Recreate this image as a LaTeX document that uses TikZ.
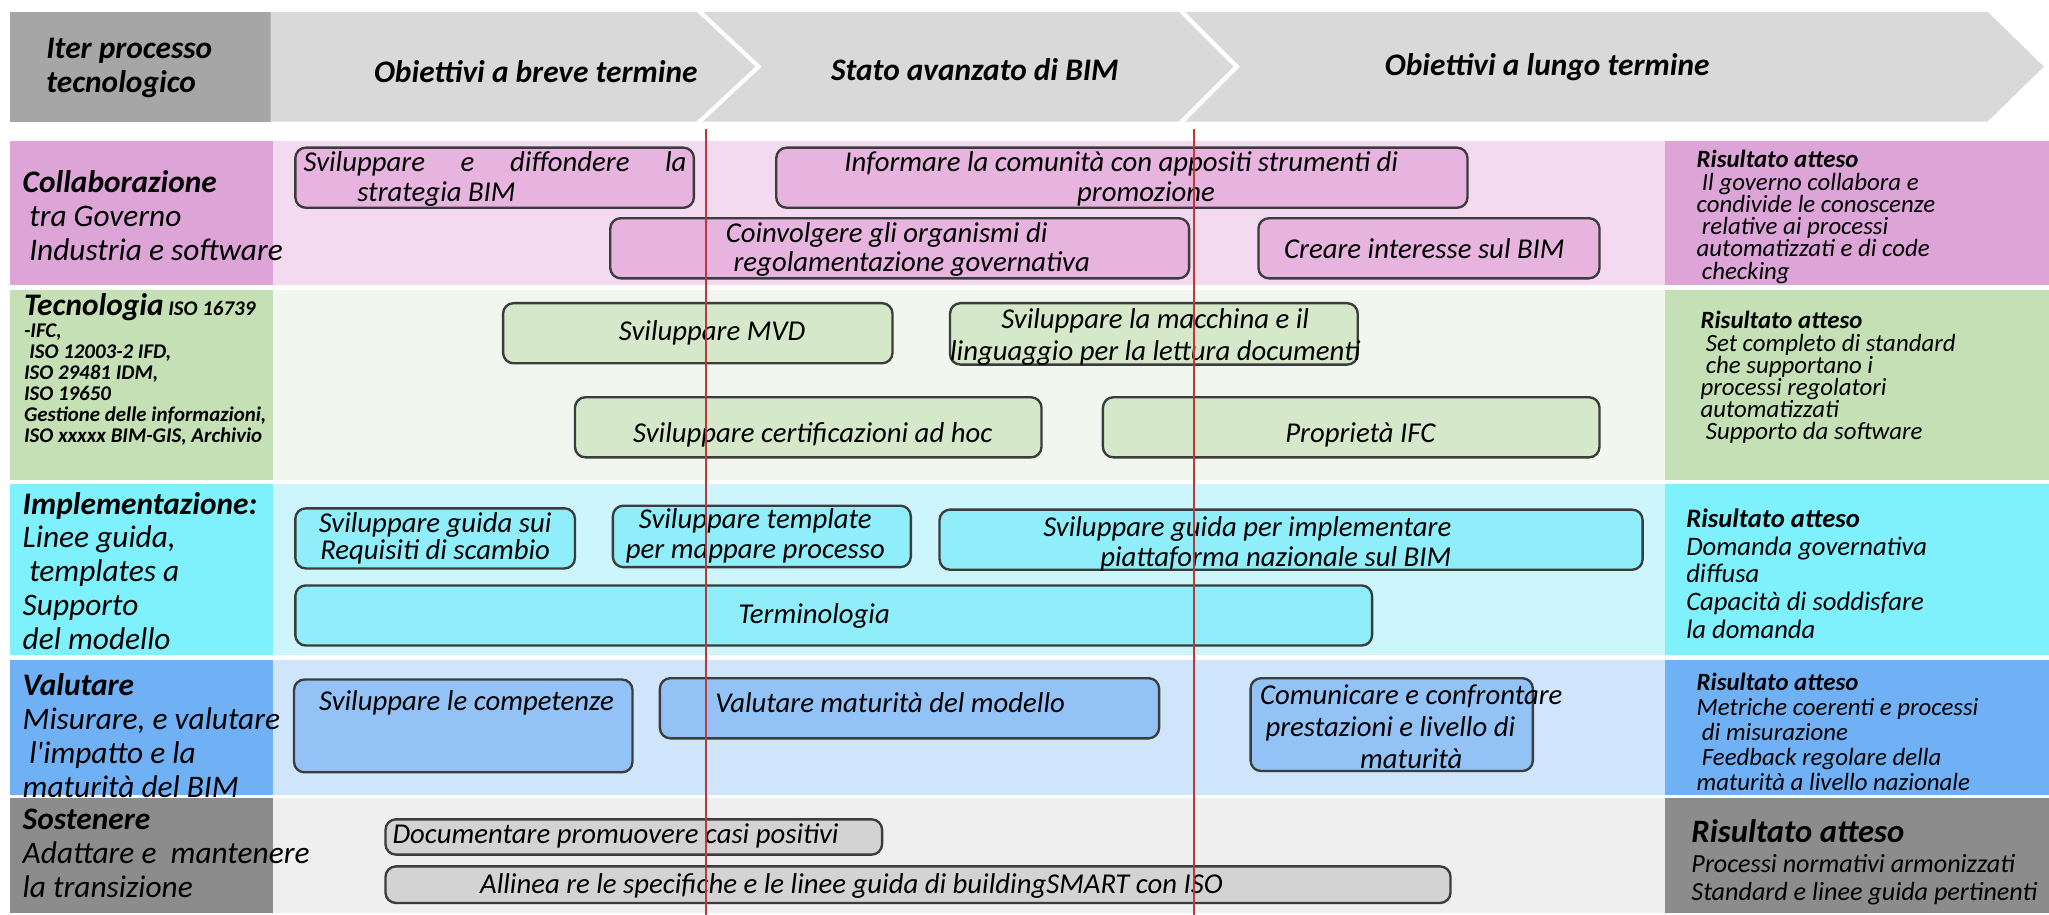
\documentclass[tikz,border=0pt]{standalone}
\usepackage{fontspec}
\setmainfont{Carlito}[Ligatures=TeXOff]
\definecolor{hdrdark}{HTML}{A6A6A6}
\definecolor{hdrlight}{HTML}{D9D9D9}
\definecolor{colA}{HTML}{DCA4D7}
\definecolor{colband}{HTML}{F3DAF0}
\definecolor{colbox}{HTML}{E6B4DE}
\definecolor{tecA}{HTML}{C5E0B4}
\definecolor{tecband}{HTML}{F1F6EE}
\definecolor{tecbox}{HTML}{D5E8C9}
\definecolor{impA}{HTML}{7FF1FC}
\definecolor{impband}{HTML}{CCF6FB}
\definecolor{impbox}{HTML}{8FEEF9}
\definecolor{valA}{HTML}{70B1F5}
\definecolor{valband}{HTML}{CFE5FB}
\definecolor{valbox}{HTML}{93C3F6}
\definecolor{sosA}{HTML}{8C8C8C}
\definecolor{sosband}{HTML}{EFEFEF}
\definecolor{sosbox}{HTML}{D3D3D3}
\definecolor{redline}{HTML}{B83A3A}
\definecolor{edge}{HTML}{3C3C3C}
% rounded task box from its corner coordinates: name, x1, y1, x2, y2, fill
\newcommand\taskbox[6]{%
  \node[task, fill=#6, minimum width={(#4-#2)*0.5pt}, minimum height={(#5-#3)*0.5pt}]
    (#1) at ({(#2+#4)/2},{(#3+#5)/2}) {};}
\begin{document}
\begin{tikzpicture}[x=0.5pt,y=-0.5pt,
  task/.style={draw=edge, line width=0.9pt, rounded corners=4pt, inner sep=0pt},
  tt/.style={inner sep=0pt, align=center, font=\fontsize{11}{11.5}\selectfont\itshape},
  hdr/.style={inner sep=0pt, font=\fontsize{12}{13}\selectfont\bfseries\itshape},
  lab/.style={inner sep=0pt, anchor=west, align=left, font=\fontsize{12}{13}\selectfont\itshape},
  res/.style={inner sep=0pt, anchor=west, align=left, font=\fontsize{9.5}{8.5}\selectfont\itshape},
  redl/.style={draw=redline, line width=0.8pt}
]
\useasboundingbox (0,0) rectangle (1568,700);
\fill[white] (0,0) rectangle (1568,700);

% ---- header ribbon
\fill[hdrdark] (7.5,9) rectangle (207,93);
\fill[hdrlight] (207,9) -- (533,9) -- (578,51) -- (533,93) -- (207,93) -- cycle;
\fill[hdrlight] (538,9) -- (902,9) -- (944,51) -- (902,93) -- (538,93) -- (583,51) -- cycle;
\fill[hdrlight] (907,9) -- (1521,9) -- (1564,51) -- (1521,93) -- (907,93) -- (949,51) -- cycle;
\node[hdr, anchor=west, align=left] (hIter) at (35,52) {Iter processo\\tecnologico};
\node[hdr] (hBreve) at (410,55) {Obiettivi a breve termine};
\node[hdr] (hStato) at (746,53) {Stato avanzato di BIM};
\node[hdr] (hLungo) at (1184,51) {Obiettivi a lungo termine};

% ---- row bands
\fill[colA]    (7.5,108) rectangle (209,218);
\fill[colband] (209,108) rectangle (1274,218);
\fill[colA]    (1274,108) rectangle (1568,218);
\fill[tecA]    (7.5,222) rectangle (209,367);
\fill[tecband] (209,222) rectangle (1274,367);
\fill[tecA]    (1274,222) rectangle (1568,367);
\fill[impA]    (7.5,370) rectangle (209,501);
\fill[impband] (209,370) rectangle (1274,501);
\fill[impA]    (1274,370) rectangle (1568,501);
\fill[valA]    (7.5,505) rectangle (209,608);
\fill[valband] (209,505) rectangle (1274,608);
\fill[valA]    (1274,505) rectangle (1568,608);
\fill[sosA]    (7.5,611) rectangle (209,699);
\fill[sosband] (209,611) rectangle (1274,699);
\fill[sosA]    (1274,611) rectangle (1568,699);

% ---- row titles
\node[lab] (lCol) at (17,165) {{\bfseries Collaborazione}\\\hspace*{2.5pt}tra Governo\\\hspace*{2.5pt}Industria e software};
\node[lab, font=\fontsize{8}{8.1}\selectfont\bfseries\itshape] (lTec) at (18,283)
  {{\fontsize{12}{12}\selectfont Tecnologia} ISO 16739\\-IFC,\\\hspace*{2pt}ISO 12003-2 IFD,\\ISO 29481 IDM,\\ISO 19650\\Gestione delle informazioni,\\ISO xxxxx BIM-GIS, Archivio};
\node[lab] (lImp) at (17,437) {{\bfseries Implementazione:}\\Linee guida,\\\hspace*{2.5pt}templates a\\Supporto\\del modello};
\node[lab] (lVal) at (17,563) {{\bfseries Valutare}\\Misurare, e valutare\\\hspace*{2.5pt}l'impatto e la\\maturità del BIM};
\node[lab] (lSos) at (17,653) {{\bfseries Sostenere}\\Adattare e\ \ mantenere\\la transizione};

% ---- expected results
\node[res] (rCol) at (1298,166) {{\bfseries Risultato atteso}\\\hspace*{2pt}Il governo collabora e\\condivide le conoscenze\\\hspace*{2pt}relative ai processi\\automatizzati e di code\\\hspace*{2pt}checking};
\node[res] (rTec) at (1301,289) {{\bfseries Risultato atteso}\\\hspace*{2pt}Set completo di standard\\\hspace*{2pt}che supportano i\\processi regolatori\\automatizzati\\\hspace*{2pt}Supporto da software};
\node[res, font=\fontsize{10.2}{10.6}\selectfont\itshape] (rImp) at (1290,439) {{\bfseries Risultato atteso}\\Domanda governativa\\diffusa\\Capacità di soddisfare\\la domanda};
\node[res, font=\fontsize{9.5}{9.5}\selectfont\itshape] (rVal) at (1298,560) {{\bfseries Risultato atteso}\\Metriche coerenti e processi\\\hspace*{2pt}di misurazione\\\hspace*{2pt}Feedback regolare della\\maturità a livello nazionale};
\node[res, font=\fontsize{10}{10.6}\selectfont\itshape] (rSos) at (1294,660) {{\bfseries\fontsize{12.5}{13}\selectfont Risultato atteso}\\[1pt]Processi normativi armonizzati\\Standard e linee guida pertinenti};

% ---- Collaborazione tasks
\taskbox{b11}{226}{113}{531}{159}{colbox}
\taskbox{b12}{594}{113}{1123}{159}{colbox}
\taskbox{b13}{467}{167}{910}{213}{colbox}
\taskbox{b14}{963}{167}{1224}{213}{colbox}
\node[tt, anchor=west, align=left, font=\fontsize{11}{11.5}\selectfont\itshape] (t11) at (232,137)
  {\hbox to 146.5pt{Sviluppare\hfill e\hfill diffondere\hfill la}\\\hspace*{20.5pt}strategia BIM};
\node[tt] (t12) at (858,137) {Informare la comunità con appositi strumenti di\\\hspace*{19pt}promozione};
\node[tt, anchor=west, align=left, font=\fontsize{11}{10.8}\selectfont\itshape] (t13) at (555,191)
  {Coinvolgere gli organismi di\\\hspace*{3pt}regolamentazione governativa};
\node[tt] (t14) at (1090,190) {Creare interesse sul BIM};

% ---- Tecnologia tasks
\taskbox{b21}{385}{232}{683}{278}{tecbox}
\taskbox{b22}{727}{232}{1039}{279}{tecbox}
\taskbox{b23}{440}{304}{797}{350}{tecbox}
\taskbox{b24}{844}{304}{1224}{350}{tecbox}
\node[tt] (t21) at (545,255) {Sviluppare MVD};
\node[tt, font=\fontsize{11}{12}\selectfont\itshape] (t22) at (884,258) {Sviluppare la macchina e il\\linguaggio per la lettura documenti};
\node[tt] (t23) at (622,333) {Sviluppare certificazioni ad hoc};
\node[tt] (t24) at (1041,333) {Proprietà IFC};

% ---- Implementazione tasks
\taskbox{b31}{226}{389}{440}{435}{impbox}
\taskbox{b32}{469}{387}{697}{434}{impbox}
\taskbox{b33}{719}{390}{1257}{436}{impbox}
\taskbox{b34}{226}{448}{1050}{494}{impbox}
\node[tt, font=\fontsize{11}{10.5}\selectfont\itshape] (t31) at (333,412) {Sviluppare guida sui\\Requisiti di scambio};
\node[tt, font=\fontsize{11}{11.5}\selectfont\itshape] (t32) at (578,410) {Sviluppare template\\per mappare processo};
\node[tt, anchor=east, align=right, font=\fontsize{11}{11.5}\selectfont\itshape] (t33) at (1111,416) {Sviluppare guida per implementare\\piattaforma nazionale sul BIM};
\node[tt] (t34) at (623,471) {Terminologia};

% ---- Valutare tasks
\taskbox{b41}{225}{520}{484}{591}{valbox}
\taskbox{b42}{505}{519}{887}{565}{valbox}
\taskbox{b43}{957}{519}{1173}{590}{valbox}
\node[tt] (t41) at (357,538) {Sviluppare le competenze};
\node[tt, anchor=west] (t42) at (547,538) {Valutare maturità del modello};
\node[tt, font=\fontsize{11}{12.2}\selectfont\itshape] (t43) at (1080,556) {Comunicare e confrontare\\\hspace*{-16pt}prestazioni e livello di\\maturità};

% ---- Sostenere tasks
\taskbox{b51}{295}{627}{675}{654}{sosbox}
\taskbox{b52}{295}{663}{1110}{691}{sosbox}
\node[tt, anchor=west] (t51) at (300,640) {Documentare promuovere casi positivi};
\node[tt, anchor=west] (t52) at (367,678) {Allinea re le specifiche e le linee guida di buildingSMART con ISO};

% ---- milestone lines
\coordinate (m1top) at (540,99);
\coordinate (m1bot) at (540,700);
\coordinate (m2top) at (914,99);
\coordinate (m2bot) at (914,700);
\draw[redl] (m1top) -- (m1bot);
\draw[redl] (m2top) -- (m2bot);
\end{tikzpicture}
\end{document}
